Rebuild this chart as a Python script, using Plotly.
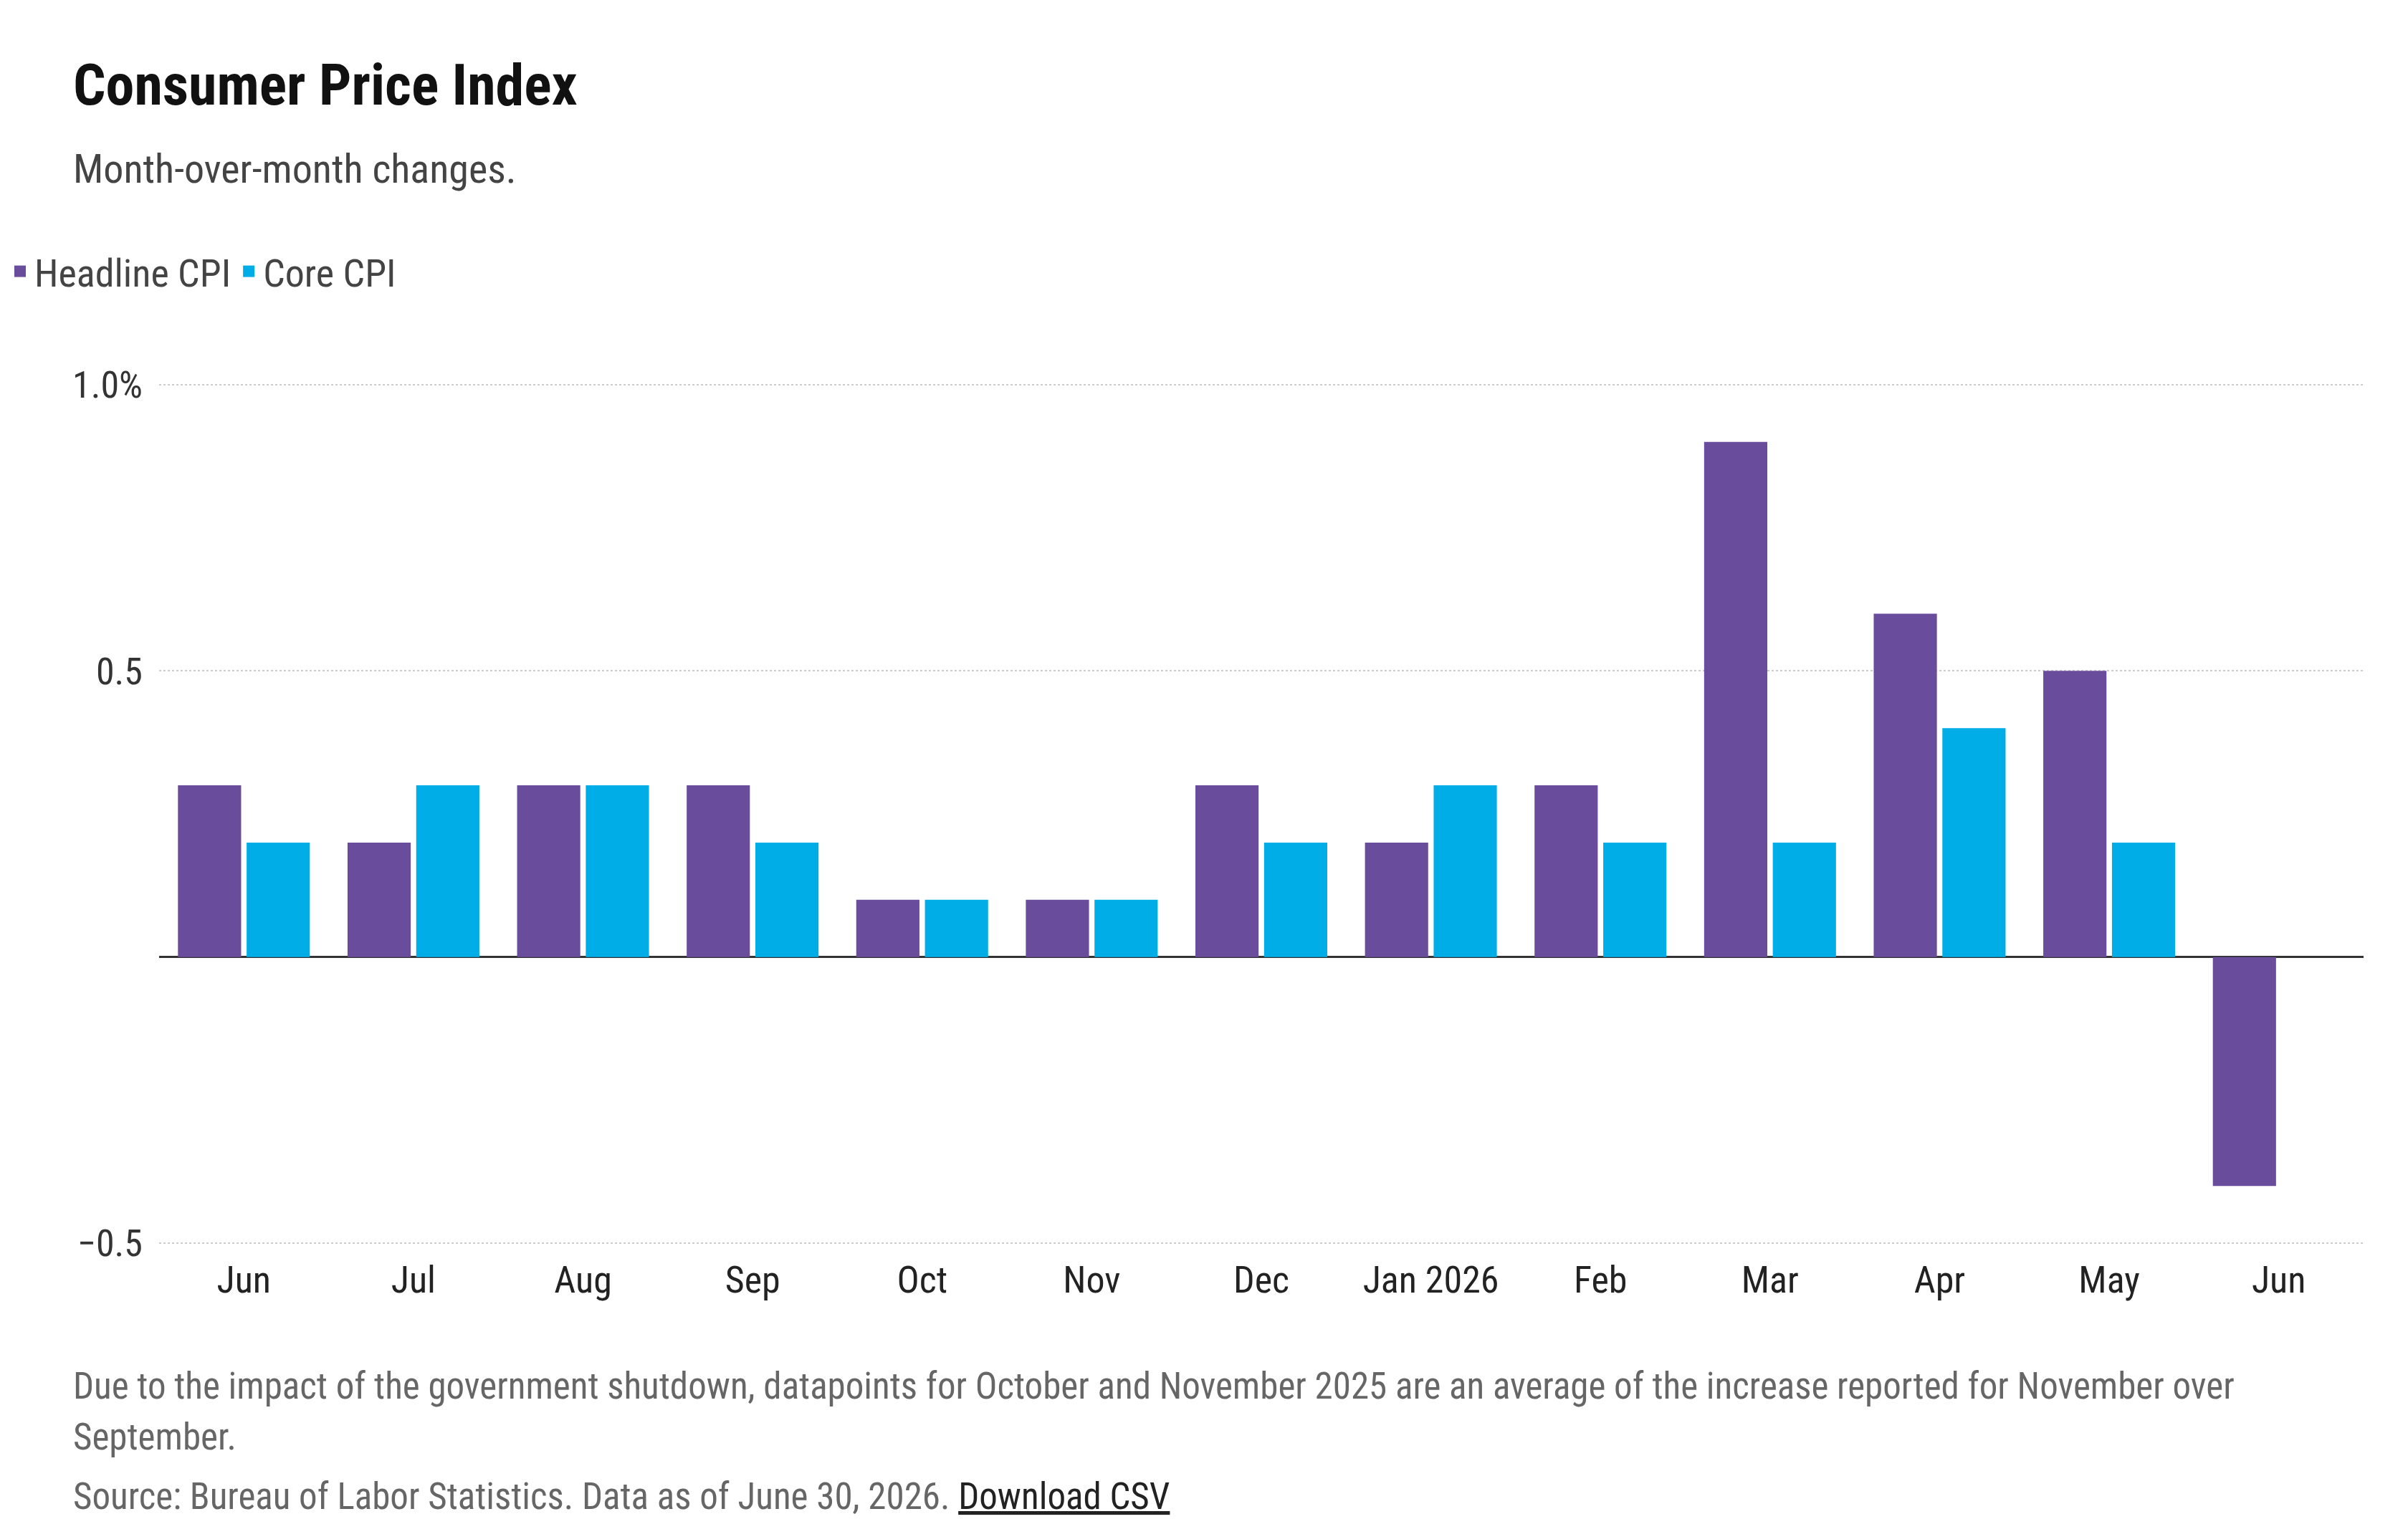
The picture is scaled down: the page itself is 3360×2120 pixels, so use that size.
import plotly.graph_objects as go

months = ["Jun", "Jul", "Aug", "Sep", "Oct", "Nov", "Dec", "Jan 2026", "Feb", "Mar", "Apr", "May", "Jun"]
headline = [0.3, 0.2, 0.3, 0.3, 0.1, 0.1, 0.3, 0.2, 0.3, 0.9, 0.6, 0.5, -0.4]
core = [0.2, 0.3, 0.3, 0.2, 0.1, 0.1, 0.2, 0.3, 0.2, 0.2, 0.4, 0.2, None]
xpos = list(range(len(months)))
PURPLE, BLUE = "#6a4c9c", "#00ade6"

F = "Liberation Sans Narrow, Roboto Condensed, Roboto, sans-serif"
T, B, L, R = 513, 377, 214, 70
fig = go.Figure()
fig.add_bar(x=xpos, y=headline, name="Headline CPI", showlegend=False, marker=dict(color=PURPLE, line=dict(width=0)))
fig.add_bar(x=xpos, y=core, name="Core CPI", showlegend=False, marker=dict(color=BLUE, line=dict(width=0)))
for nm, c in [("Headline CPI", PURPLE), ("Core CPI", BLUE)]:
    fig.add_scatter(x=[None], y=[None], mode="markers", name=nm,
                    marker=dict(symbol="square", size=52, color=c))

fig.update_layout(
    width=3360, height=2120, plot_bgcolor="white", paper_bgcolor="white",
    margin=dict(l=L, r=R, t=T, b=B),
    barmode="group", bargap=0.19, bargroupgap=0.08,
    font=dict(family=F, size=52, color="#333"),
    showlegend=True,
    legend=dict(orientation="h", x=-0.07, y=1 - 371/2120, yref="container", yanchor="middle",
                font=dict(size=54, color="#444"), itemsizing="trace", itemwidth=30,
                traceorder="normal", bgcolor="rgba(0,0,0,0)"),
    xaxis=dict(tickvals=xpos, ticktext=months, range=[-0.5, 12.5], showgrid=False,
               tickfont=dict(size=52, color="#222"), ticks=""),
    yaxis=dict(range=[-0.52, 1.02], tickvals=[-0.5, 0.5, 1.0], ticktext=["−0.5", "0.5", "1.0%"],
               showgrid=True, gridcolor="#cccccc", griddash="dot", gridwidth=2,
               zeroline=True, zerolinecolor="#333", zerolinewidth=3,
               tickfont=dict(size=52, color="#333"), ticks="", ticklabelstandoff=22),
)

ann = [
    (111, "<b>Consumer Price Index</b>", 80, "#111"),
    (228, "Month-over-month changes.", 56, "#444"),
    (1926, "Due to the impact of the government shutdown, datapoints for October and November 2025 are an average of the increase reported for November over", 51, "#666"),
    (1997, "September.", 51, "#666"),
    (2080, "Source: Bureau of Labor Statistics. Data as of June 30, 2026. <span style='color:#222'><u>Download CSV</u></span>", 51, "#666"),
]
plot_h = 2120 - T - B
plot_w = 3360 - L - R
for y, t, s, c in ann:
    fig.add_annotation(x=(92 - L) / plot_w, y=(2120 - B - y) / plot_h, xref="paper", yref="paper",
                       text=t, showarrow=False, font=dict(size=s, color=c, family=F),
                       xanchor="left", yanchor="middle")
fig.write_html("out.html")
